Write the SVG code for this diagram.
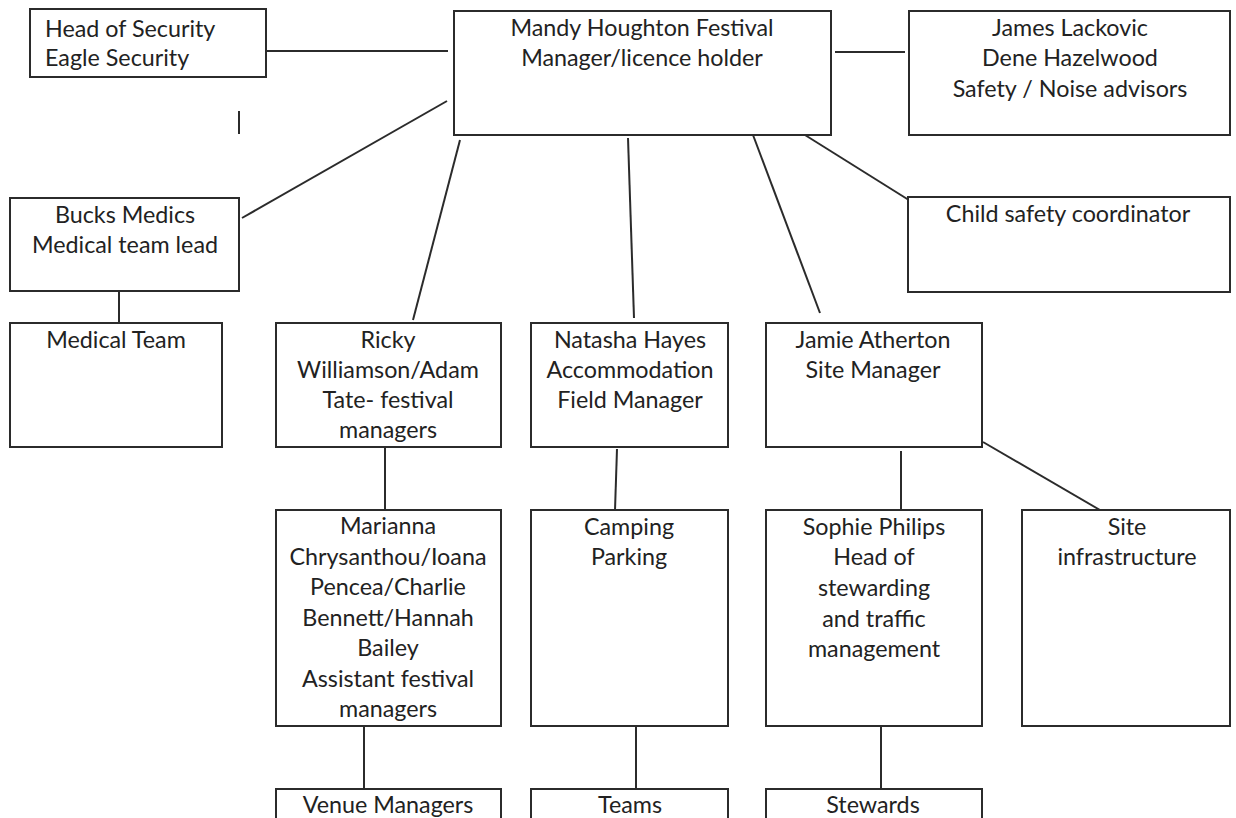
<svg xmlns="http://www.w3.org/2000/svg" width="1236" height="818" viewBox="0 0 1236 818">
<style>
.box{fill:#fff;stroke:#2b2b2b;stroke-width:2}
.c{stroke:#2b2b2b;stroke-width:2;fill:none}
text{font-family:Lato,"Open Sans","Liberation Sans",sans-serif;font-size:23.3px;fill:#222}
.m{text-anchor:middle}
</style>
<rect width="1236" height="818" fill="#fff"/>
<g id="connectors">
<line class="c" x1="266" y1="51" x2="448" y2="51"/>
<line class="c" x1="835" y1="52" x2="905" y2="52"/>
<line class="c" x1="447" y1="101" x2="242" y2="218"/>
<line class="c" x1="239" y1="111" x2="239" y2="134"/>
<line class="c" x1="460" y1="140" x2="413" y2="320"/>
<line class="c" x1="628" y1="138" x2="634" y2="318"/>
<line class="c" x1="753" y1="135" x2="820" y2="313"/>
<line class="c" x1="805" y1="135" x2="912" y2="202"/>
<line class="c" x1="119" y1="291" x2="119" y2="324"/>
<line class="c" x1="385" y1="447" x2="385" y2="510"/>
<line class="c" x1="617" y1="449" x2="615" y2="510"/>
<line class="c" x1="901" y1="451" x2="901" y2="510"/>
<line class="c" x1="983" y1="442" x2="1100" y2="510"/>
<line class="c" x1="364" y1="726" x2="364" y2="789"/>
<line class="c" x1="636" y1="726" x2="636" y2="789"/>
<line class="c" x1="881" y1="726" x2="881" y2="789"/>
</g>
<g id="security"><rect class="box" x="30" y="9" width="236" height="68"/>
<text x="45" y="37">Head of Security</text><text x="45" y="66">Eagle Security</text></g>
<g id="mandy"><rect class="box" x="454" y="11" width="377" height="124"/>
<text class="m" x="642" y="36">Mandy Houghton Festival</text><text class="m" x="642" y="66">Manager/licence holder</text></g>
<g id="advisors"><rect class="box" x="909" y="11" width="321" height="124"/>
<text class="m" x="1070" y="36">James Lackovic</text><text class="m" x="1070" y="66">Dene Hazelwood</text><text class="m" x="1070" y="97">Safety / Noise advisors</text></g>
<g id="bucks"><rect class="box" x="10" y="198" width="229" height="93"/>
<text class="m" x="125" y="223">Bucks Medics</text><text class="m" x="125" y="253">Medical team lead</text></g>
<g id="child"><rect class="box" x="908" y="197" width="322" height="95"/>
<text class="m" x="1068" y="222">Child safety coordinator</text></g>
<g id="medical"><rect class="box" x="10" y="323" width="212" height="124"/>
<text class="m" x="116" y="348">Medical Team</text></g>
<g id="ricky"><rect class="box" x="276" y="323" width="225" height="124"/>
<text class="m" x="388" y="348">Ricky</text><text class="m" x="388" y="378">Williamson/Adam</text><text class="m" x="388" y="408">Tate- festival</text><text class="m" x="388" y="438">managers</text></g>
<g id="natasha"><rect class="box" x="531" y="323" width="197" height="124"/>
<text class="m" x="630" y="348">Natasha Hayes</text><text class="m" x="630" y="378">Accommodation</text><text class="m" x="630" y="408">Field Manager</text></g>
<g id="jamie"><rect class="box" x="766" y="323" width="216" height="124"/>
<text class="m" x="873" y="348">Jamie Atherton</text><text class="m" x="873" y="378">Site Manager</text></g>
<g id="marianna"><rect class="box" x="276" y="510" width="225" height="216"/>
<text class="m" x="388" y="534">Marianna</text><text class="m" x="388" y="565">Chrysanthou/Ioana</text><text class="m" x="388" y="595">Pencea/Charlie</text><text class="m" x="388" y="626">Bennett/Hannah</text><text class="m" x="388" y="656">Bailey</text><text class="m" x="388" y="687">Assistant festival</text><text class="m" x="388" y="717">managers</text></g>
<g id="camping"><rect class="box" x="531" y="510" width="197" height="216"/>
<text class="m" x="629" y="535">Camping</text><text class="m" x="629" y="565">Parking</text></g>
<g id="sophie"><rect class="box" x="766" y="510" width="216" height="216"/>
<text class="m" x="874" y="535">Sophie Philips</text><text class="m" x="874" y="565">Head of</text><text class="m" x="874" y="596">stewarding</text><text class="m" x="874" y="627">and traffic</text><text class="m" x="874" y="657">management</text></g>
<g id="site"><rect class="box" x="1022" y="510" width="208" height="216"/>
<text class="m" x="1127" y="535">Site</text><text class="m" x="1127" y="565">infrastructure</text></g>
<g id="venue"><rect class="box" x="276" y="789" width="225" height="40"/>
<text class="m" x="388" y="813">Venue Managers</text></g>
<g id="teams"><rect class="box" x="531" y="789" width="197" height="40"/>
<text class="m" x="630" y="813">Teams</text></g>
<g id="stewards"><rect class="box" x="766" y="789" width="216" height="40"/>
<text class="m" x="873" y="813">Stewards</text></g>
</svg>
